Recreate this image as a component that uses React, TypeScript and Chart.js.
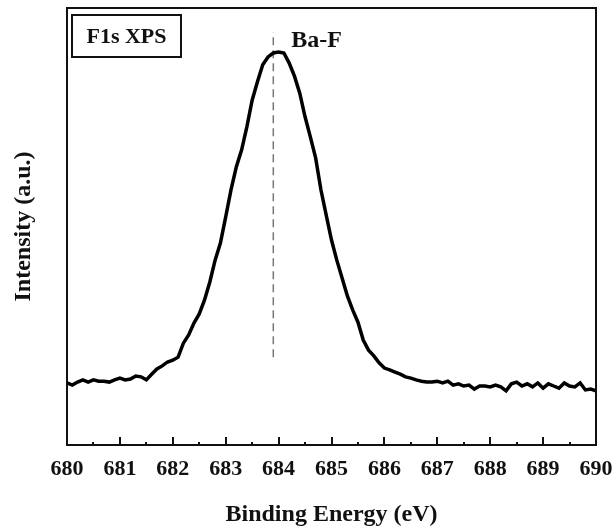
import React, { useEffect, useRef } from "react";
import { Chart, registerables } from "chart.js";

Chart.register(...registerables);

const energies: number[] = [
  680.0, 680.1, 680.2, 680.3, 680.4, 680.5, 680.6, 680.7, 680.8, 680.9,
  681.0, 681.1, 681.2, 681.3, 681.4, 681.5, 681.6, 681.7, 681.8, 681.9,
  682.0, 682.1, 682.2, 682.3, 682.4, 682.5, 682.6, 682.7, 682.8, 682.9,
  683.0, 683.1, 683.2, 683.3, 683.4, 683.5, 683.6, 683.7, 683.8, 683.9,
  684.0, 684.1, 684.2, 684.3, 684.4, 684.5, 684.6, 684.7, 684.8, 684.9,
  685.0, 685.1, 685.2, 685.3, 685.4, 685.5, 685.6, 685.7, 685.8, 685.9,
  686.0, 686.1, 686.2, 686.3, 686.4, 686.5, 686.6, 686.7, 686.8, 686.9,
  687.0, 687.1, 687.2, 687.3, 687.4, 687.5, 687.6, 687.7, 687.8, 687.9,
  688.0, 688.1, 688.2, 688.3, 688.4, 688.5, 688.6, 688.7, 688.8, 688.9,
  689.0, 689.1, 689.2, 689.3, 689.4, 689.5, 689.6, 689.7, 689.8, 689.9,
  690.0,
];

const intensity: number[] = [
  14.2, 13.7, 14.4, 14.9, 14.4, 14.9, 14.6, 14.6, 14.4, 14.9,
  15.3, 14.9, 15.1, 15.8, 15.6, 14.9, 16.2, 17.4, 18.1, 19.0,
  19.4, 20.1, 23.3, 25.2, 27.9, 30.0, 33.2, 37.3, 42.3, 46.2,
  52.2, 58.4, 63.6, 67.5, 72.8, 78.9, 83.1, 87.0, 88.8, 89.7,
  89.9, 89.7, 87.4, 84.4, 80.5, 75.1, 70.5, 65.7, 58.4, 52.6,
  46.9, 42.3, 38.2, 34.1, 30.9, 28.1, 24.0, 21.7, 20.4, 18.8,
  17.6, 17.2, 16.7, 16.2, 15.6, 15.3, 14.9, 14.6, 14.4, 14.4,
  14.6, 14.2, 14.6, 13.7, 14.0, 13.5, 13.7, 12.8, 13.5, 13.5,
  13.3, 13.7, 13.3, 12.4, 14.0, 14.4, 13.5, 14.0, 13.3, 14.2,
  13.0, 14.0, 13.5, 13.0, 14.2, 13.5, 13.3, 14.2, 12.6, 12.8,
  12.4,
];

const peakEnergy = 683.9;
const peakMarkerRange: number[] = [20.1, 94.5];

const xMin = 680;
const xMax = 690;
const xTickStep = 1;
const yMin = 0;
const yMax = 100;

const peakLabel = "Ba-F";
const boxLabel = "F1s XPS";
const xTitle = "Binding Energy (eV)";
const yTitle = "Intensity (a.u.)";

const SERIF = '"Liberation Serif", "Times New Roman", serif';

const framePlugin = {
  id: "frameAndTicks",
  afterDraw(chart: any) {
    const { ctx, chartArea, scales } = chart;
    const xs = scales.x;
    ctx.save();
    ctx.strokeStyle = "#111";
    ctx.lineWidth = 2;
    for (let v = xMin; v <= xMax + 1e-9; v += xTickStep / 2) {
      const px = Math.round(xs.getPixelForValue(v));
      const isMajor = Math.abs(v - Math.round(v)) < 1e-6;
      const len = isMajor ? 8 : 3;
      ctx.beginPath();
      ctx.moveTo(px, chartArea.bottom);
      ctx.lineTo(px, chartArea.bottom - len);
      ctx.stroke();
    }
    ctx.lineWidth = 2;
    ctx.strokeStyle = "#111";
    ctx.strokeRect(chartArea.left, chartArea.top, chartArea.right - chartArea.left, chartArea.bottom - chartArea.top);

    const bx = chartArea.left + 5;
    const by = chartArea.top + 7;
    const bw = 109;
    const bh = 42;
    ctx.lineWidth = 2;
    ctx.strokeRect(bx, by, bw, bh);
    ctx.fillStyle = "#111";
    ctx.font = `bold 22px ${SERIF}`;
    ctx.textAlign = "center";
    ctx.textBaseline = "middle";
    ctx.fillText(boxLabel, bx + bw / 2, by + bh / 2 + 1);

    ctx.font = `bold 24px ${SERIF}`;
    ctx.textAlign = "left";
    ctx.textBaseline = "middle";
    const lx = xs.getPixelForValue(peakEnergy) + 18;
    ctx.fillText(peakLabel, lx, 41);
    ctx.restore();
  },
};

export default function App() {
  const ref = useRef<HTMLCanvasElement | null>(null);

  useEffect(() => {
    if (!ref.current) return;
    const mainData = energies.map((e, i) => ({ x: e, y: intensity[i] }));
    const markerData = peakMarkerRange.map((y) => ({ x: peakEnergy, y }));
    const chart = new Chart(ref.current, {
      type: "line",
      data: {
        datasets: [
          {
            data: mainData,
            borderColor: "#000",
            borderWidth: 3.5,
            pointRadius: 0,
            tension: 0,
            fill: false,
          },
          {
            data: markerData,
            borderColor: "#777",
            borderWidth: 1.5,
            borderDash: [8, 5],
            pointRadius: 0,
            fill: false,
          },
        ],
      },
      options: {
        responsive: false,
        animation: false,
        layout: { padding: { top: 8, right: 19, left: 0, bottom: 0 } },
        plugins: {
          legend: { display: false },
          tooltip: { enabled: false },
        },
        scales: {
          x: {
            type: "linear",
            min: xMin,
            max: xMax,
            grid: { display: false, drawTicks: false },
            border: { display: false },
            ticks: {
              stepSize: xTickStep,
              padding: 11,
              color: "#111",
              font: { family: SERIF, size: 22, weight: "bold" },
              maxRotation: 0,
            },
            title: {
              display: true,
              text: xTitle,
              color: "#111",
              font: { family: SERIF, size: 24, weight: "bold" },
              padding: { top: 0, bottom: 1 },
            },
            afterFit(scale: any) {
              scale.height = 85;
              scale.paddingLeft = 0;
              scale.paddingRight = 0;
            },
          },
          y: {
            type: "linear",
            min: yMin,
            max: yMax,
            grid: { display: false, drawTicks: false },
            border: { display: false },
            ticks: { display: false },
            title: {
              display: true,
              text: yTitle,
              color: "#111",
              font: { family: SERIF, size: 24, weight: "bold" },
              padding: { top: 9, bottom: 0 },
            },
            afterFit(scale: any) {
              scale.width = 67;
            },
          },
        },
      },
      plugins: [framePlugin],
    });
    return () => chart.destroy();
  }, []);

  return (
    <div style={{ position: "absolute", left: 0, top: 0, width: 615, height: 530, background: "#fff" }}>
      <canvas ref={ref} width={615} height={530} style={{ display: "block" }} />
    </div>
  );
}
